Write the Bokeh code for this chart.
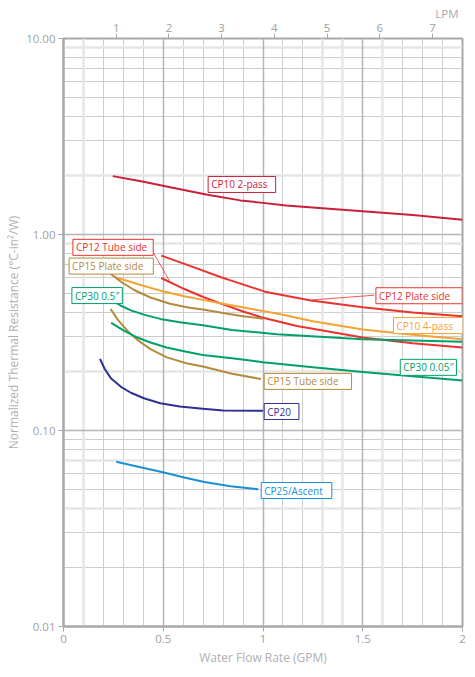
from bokeh.plotting import figure
from bokeh.models import (LinearAxis, Range1d, FixedTicker, Grid, Label, Arrow,
                          PrintfTickFormatter, NumeralTickFormatter)
from bokeh.embed import file_html
from bokeh.resources import INLINE

# flow in GPM, resistance in C-in2/W
cp10_2pass_x = [0.247, 0.395, 0.559, 0.722, 0.886, 1.0, 1.115, 1.5, 1.75, 2.0]
cp10_2pass_y = [1.985, 1.862, 1.722, 1.595, 1.493, 1.45, 1.404, 1.315, 1.256, 1.19]

cp12_plate_x = [0.49, 0.62, 0.79, 0.845, 1.01, 1.24, 1.5, 1.75, 2.0]
cp12_plate_y = [0.78, 0.70, 0.605, 0.58, 0.511, 0.461, 0.425, 0.40, 0.383]

cp12_tube_x = [0.49, 0.6, 0.7, 0.8, 0.9, 1.0, 1.17, 1.5, 1.75, 2.0]
cp12_tube_y = [0.60, 0.53, 0.48, 0.44, 0.405, 0.376, 0.341, 0.298, 0.279, 0.265]

cp10_4pass_x = [0.255, 0.37, 0.485, 0.6, 0.698, 0.8, 1.07, 1.25, 1.5, 1.75, 2.0]
cp10_4pass_y = [0.608, 0.559, 0.517, 0.486, 0.464, 0.443, 0.395, 0.361, 0.328, 0.308, 0.292]

cp15_plate_x = [0.236, 0.288, 0.354, 0.436, 0.534, 0.632, 0.698, 0.8, 0.9, 1.0]
cp15_plate_y = [0.631, 0.574, 0.521, 0.477, 0.443, 0.423, 0.414, 0.398, 0.383, 0.372]

cp15_tube_x = [0.236, 0.272, 0.321, 0.37, 0.436, 0.518, 0.616, 0.698, 0.79, 0.845, 0.99]
cp15_tube_y = [0.417, 0.368, 0.322, 0.290, 0.260, 0.236, 0.2205, 0.212, 0.201, 0.195, 0.183]

cp30_05_x = [0.239, 0.288, 0.338, 0.403, 0.485, 0.583, 0.698, 0.845, 1.07, 1.5, 2.0]
cp30_05_y = [0.464, 0.433, 0.410, 0.390, 0.371, 0.357, 0.344, 0.326, 0.310, 0.292, 0.284]

cp30_005_x = [0.239, 0.305, 0.37, 0.436, 0.517, 0.616, 0.698, 0.845, 1.0, 1.25, 1.5, 1.75, 2.0]
cp30_005_y = [0.354, 0.322, 0.298, 0.281, 0.265, 0.252, 0.243, 0.2336, 0.223, 0.21, 0.199, 0.189, 0.180]

cp20_x = [0.183, 0.206, 0.239, 0.288, 0.338, 0.403, 0.485, 0.583, 0.698, 0.8, 1.0]
cp20_y = [0.2318, 0.2065, 0.184, 0.167, 0.1558, 0.146, 0.1377, 0.1324, 0.129, 0.1265, 0.126]

cp25_x = [0.264, 0.38, 0.498, 0.6, 0.706, 0.837, 0.976]
cp25_y = [0.0693, 0.0651, 0.0613, 0.0578, 0.0546, 0.0519, 0.0501]

lpm_ticks = [1, 2, 3, 4, 5, 6, 7]
gpm_ticks = [0, 0.5, 1, 1.5, 2]
res_ticks = [0.01, 0.1, 1, 10]

RED_DARK = "#c8203a"
RED = "#e8332e"
ORANGE = "#f5a233"
BROWN = "#b38b3f"
GREEN = "#00a06b"
NAVY = "#2e3192"
BLUE = "#1b8fd2"
GREY = "#a8a8a8"
FONT = "Open Sans"

series = [
    (cp10_2pass_x, cp10_2pass_y, RED_DARK),
    (cp12_plate_x, cp12_plate_y, RED),
    (cp12_tube_x, cp12_tube_y, RED),
    (cp10_4pass_x, cp10_4pass_y, ORANGE),
    (cp15_plate_x, cp15_plate_y, BROWN),
    (cp15_tube_x, cp15_tube_y, BROWN),
    (cp30_05_x, cp30_05_y, GREEN),
    (cp30_005_x, cp30_005_y, GREEN),
    (cp20_x, cp20_y, NAVY),
    (cp25_x, cp25_y, BLUE),
]

# callout boxes: text, left x, middle y, colour, extra right padding
callouts = [
    ("CP10 2-pass", 0.725, 1.80, RED_DARK, 8),
    ("CP12 Tube side", 0.047, 0.86, RED, 6),
    ("CP15 Plate side", 0.028, 0.69, BROWN, 10),
    ("CP30 0.5\u2033", 0.042, 0.488, GREEN, 3),
    ("CP12 Plate side", 1.566, 0.487, RED, 12),
    ("CP10 4-pass", 1.654, 0.343, ORANGE, 10),
    ("CP30 0.05\u2033", 1.688, 0.210, GREEN, 3),
    ("CP15 Tube side", 1.006, 0.178, BROWN, 13),
    ("CP20", 1.006, 0.125, NAVY, 8),
    ("CP25/Ascent", 0.991, 0.0494, BLUE, 9),
]
leaders = [
    (0.452, 0.803, 0.531, 0.580, RED),
    (1.238, 0.463, 1.558, 0.49, RED),
]

p = figure(width=467, height=669, x_range=(0, 2), y_range=(0.01, 10),
           y_axis_type="log", output_backend="svg", toolbar_location=None,
           min_border_left=63, min_border_right=5, min_border_top=38,
           min_border_bottom=43, background_fill_color="white",
           border_fill_color="white")

p.title.text = "LPM"
p.title.align = "right"
p.title.offset = 4
p.title.standoff = 0
p.title.text_font = FONT
p.title.text_font_size = "11.5px"
p.title.text_font_style = "normal"
p.title.text_color = "#a8a8a8"

p.outline_line_color = GREY
p.outline_line_width = 2

# grid: fine lines, heavier majors and a few pale wide lines
pale_x = [0.1, 1.3, 1.4, 1.6]
pale_y = [9, 2, 0.9, 0.2, 0.07, 0.04]
fine_x = [i / 10 for i in range(1, 20) if i % 5 and i / 10 not in pale_x]
fine_y = [m * 10 ** k for k in (-2, -1, 0) for m in range(2, 10)]
fine_y = [v for v in fine_y if all(abs(v - q) > 1e-9 for q in pale_y)]

p.xgrid.ticker = FixedTicker(ticks=fine_x)
p.ygrid.ticker = FixedTicker(ticks=fine_y)
for g in (p.xgrid, p.ygrid):
    g.grid_line_color = "#cdcdcd"
    g.grid_line_width = 1

p.add_layout(Grid(dimension=0, ticker=FixedTicker(ticks=pale_x),
                  grid_line_color="#e6e6e6", grid_line_width=2.5))
p.add_layout(Grid(dimension=1, ticker=FixedTicker(ticks=pale_y),
                  grid_line_color="#e6e6e6", grid_line_width=2.5))
p.add_layout(Grid(dimension=0, ticker=FixedTicker(ticks=[0.5, 1, 1.5]),
                  grid_line_color="#b4b4b4", grid_line_width=1.5))
p.add_layout(Grid(dimension=1, ticker=FixedTicker(ticks=[0.1, 1]),
                  grid_line_color="#b4b4b4", grid_line_width=1.5))

for xs, ys, c in series:
    p.line(xs, ys, line_color=c, line_width=2, line_join="round")

for x0, y0, x1, y1, c in leaders:
    p.add_layout(Arrow(x_start=x0, y_start=y0, x_end=x1, y_end=y1, end=None,
                       line_color=c, line_width=0.8))

for txt, x, y, c, rpad in callouts:
    p.add_layout(Label(x=x, y=y, text=txt, text_align="left", text_baseline="middle",
                       text_color=c, text_font=FONT, text_font_size="10px",
                       background_fill_color="white", border_line_color=c,
                       border_line_width=1,
                       padding=dict(left=3, right=rpad, top=1, bottom=1)))

# axes
def style_axis(ax):
    ax.axis_line_color = GREY
    ax.axis_line_width = 2
    ax.major_tick_line_color = GREY
    ax.major_tick_in = 0
    ax.major_tick_out = 5
    ax.minor_tick_line_color = None
    ax.major_label_text_color = "#a0a0a0"
    ax.major_label_text_font = FONT
    ax.major_label_text_font_size = "11.5px"
    ax.axis_label_text_color = "#b0b0b0"
    ax.axis_label_text_font = FONT
    ax.axis_label_text_font_size = "12px"
    ax.axis_label_text_font_style = "normal"

p.xaxis.ticker = FixedTicker(ticks=gpm_ticks)
p.xaxis.formatter = NumeralTickFormatter(format="0.[0]")
p.xaxis.axis_label = "Water Flow Rate (GPM)"
p.xaxis.major_label_standoff = 3
p.xaxis.axis_label_standoff = 3
p.yaxis.ticker = FixedTicker(ticks=res_ticks)
p.yaxis.formatter = PrintfTickFormatter(format="%.2f")
p.yaxis.axis_label = "Normalized Thermal Resistance (\u00b0C-in\u00b2/W)"
p.yaxis.major_label_standoff = 3
p.yaxis.axis_label_standoff = 1
style_axis(p.xaxis[0])
style_axis(p.yaxis[0])

p.extra_x_ranges = {"lpm": Range1d(0, 2 * 3.785)}
top = LinearAxis(x_range_name="lpm", ticker=FixedTicker(ticks=lpm_ticks))
style_axis(top)
top.axis_line_color = None
top.major_label_standoff = 2
p.add_layout(top, "above")

open("out.html", "w").write(file_html(p, INLINE))
